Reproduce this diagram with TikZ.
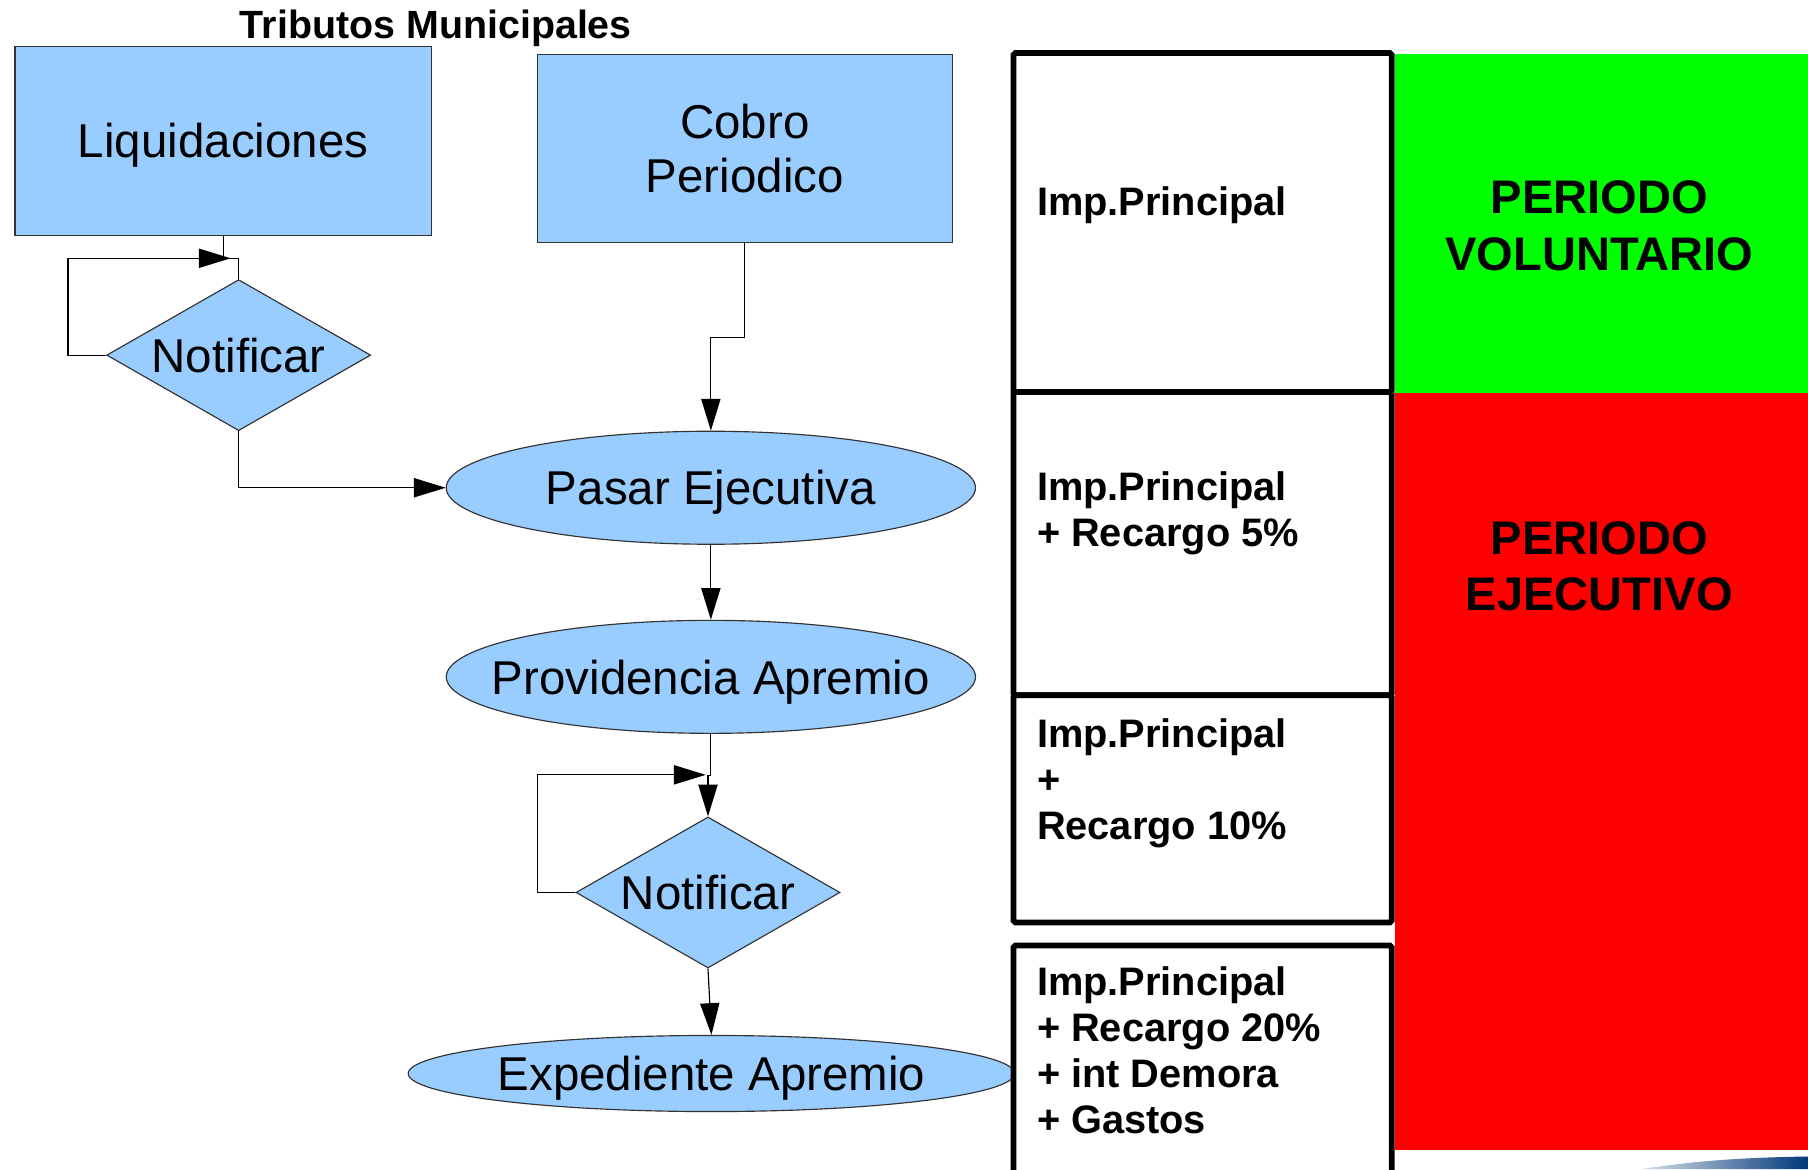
\documentclass[tikz,border=0pt]{standalone}
\usepackage{fontspec}
\setmainfont{Liberation Sans}
\usetikzlibrary{shapes.geometric, arrows.meta}

\definecolor{azul}{HTML}{99CCFF}
\definecolor{verde}{HTML}{00FF00}
\definecolor{rojo}{HTML}{FF0000}
\definecolor{marino}{HTML}{003878}

\begin{document}
\begin{tikzpicture}[x = 0.6pt, y = -0.6pt,
  font = \fontsize{24.7}{28.4}\selectfont,
  every label/.append style = {text depth = 0pt},
  caja/.style = {draw = black!80, fill = azul, line width = 0.6pt, align = center,
    minimum width = 216.6pt, minimum height = 98.4pt, inner sep = 0pt, text depth = 0pt},
  rombo/.style = {diamond, draw = black!80, fill = azul, line width = 0.6pt, shape aspect = 1.748,
    minimum width = 137.4pt, minimum height = 78.6pt, inner sep = 0pt},
  elipse/.style = {ellipse, draw = black!80, fill = azul, line width = 0.6pt,
    minimum width = 275.4pt, minimum height = 58.8pt},
  flecha/.style = {-{Triangle[length = 16.5pt, width = 10pt]}, line width = 0.6pt},
  linea/.style = {line width = 0.6pt},
  marco/.style = {draw = black, fill = white, line width = 3pt, rounded corners = 1pt},
  importe/.style = {font = \bfseries\fontsize{20.7}{24}\selectfont, align = left,
    anchor = base west, inner sep = 0pt},
  periodo/.style = {font = \bfseries\fontsize{24.5}{29.4}\selectfont, align = center}]

\useasboundingbox (0, 0) rectangle (1568, 1014);
\clip (0, 0) rectangle (1568, 1014);

% periodos
\fill[verde] (1210, 47) rectangle (1568, 341);
\fill[rojo] (1210, 341) rectangle (1568, 997);
\node[periodo] (voluntario) at (1387, 196) {PERIODO\\VOLUNTARIO};
\node[periodo] (ejecutivo) at (1387, 491) {PERIODO\\EJECUTIVO};

% flujo
\node[font = \bfseries\fontsize{20.5}{24}\selectfont, anchor = base] (titulo) at (378, 33) {Tributos Municipales};
\node[caja] (liq) at (193.5, 122) {Liquidaciones};
\node[caja, minimum width = 216pt, minimum height = 97.8pt] (cobro) at (646, 128.5) {Cobro\\Periodico};
\node[rombo] (notif1) at (207, 308) {Notificar};
\node[elipse, label = center:Pasar Ejecutiva] (pasar) at (616.5, 423) {};
\node[elipse, label = center:Providencia Apremio] (prov) at (616.5, 587) {};
\node[rombo] (notif2) at (614, 774) {Notificar};
\node[elipse, minimum width = 315.6pt, minimum height = 39.6pt,
  label = center:Expediente Apremio] (exped) at (617, 931) {};

\coordinate (lazo1) at (200, 224);
\coordinate (lazo2) at (612, 672);
\draw[linea] (liq.south) -- ++(0, 20) -| (notif1.north);
\draw[flecha] (notif1.west) -- ++(-33, 0) |- (lazo1);
\draw[flecha] (notif1.south) |- (pasar.west);
\draw[flecha] (cobro.south) -- ++(0, 82) -| (pasar.north);
\draw[flecha] (pasar) -- (prov);
\draw[flecha] (prov.south) -- ++(0, 36) -| (notif2.north);
\draw[flecha] (notif2.west) -- ++(-33, 0) |- (lazo2);
\draw[flecha] (notif2.south) -- (exped.north);

% importes
\draw[marco] (879, 46) rectangle (1207, 340);
\draw[marco] (879, 340) rectangle (1207, 603);
\draw[marco] (879, 603) rectangle (1207, 800);
\draw[marco] (879, 820) rectangle (1207, 1040);
\node[importe] (impa) at (899, 187) {Imp.Principal};
\node[importe] (impb) at (899, 474) {Imp.Principal\\+ Recargo 5\%};
\node[importe] (impc) at (899, 728) {Imp.Principal\\+\\Recargo 10\%};
\node[importe] (impd) at (899, 983) {Imp.Principal\\+ Recargo 20\%\\+ int Demora\\+ Gastos};

\shade[left color = marino!15, right color = marino] (1422, 1014) .. controls (1450, 1010) and (1490, 1004) .. (1568, 1003) -- (1568, 1014) -- cycle;
\end{tikzpicture}
\end{document}
